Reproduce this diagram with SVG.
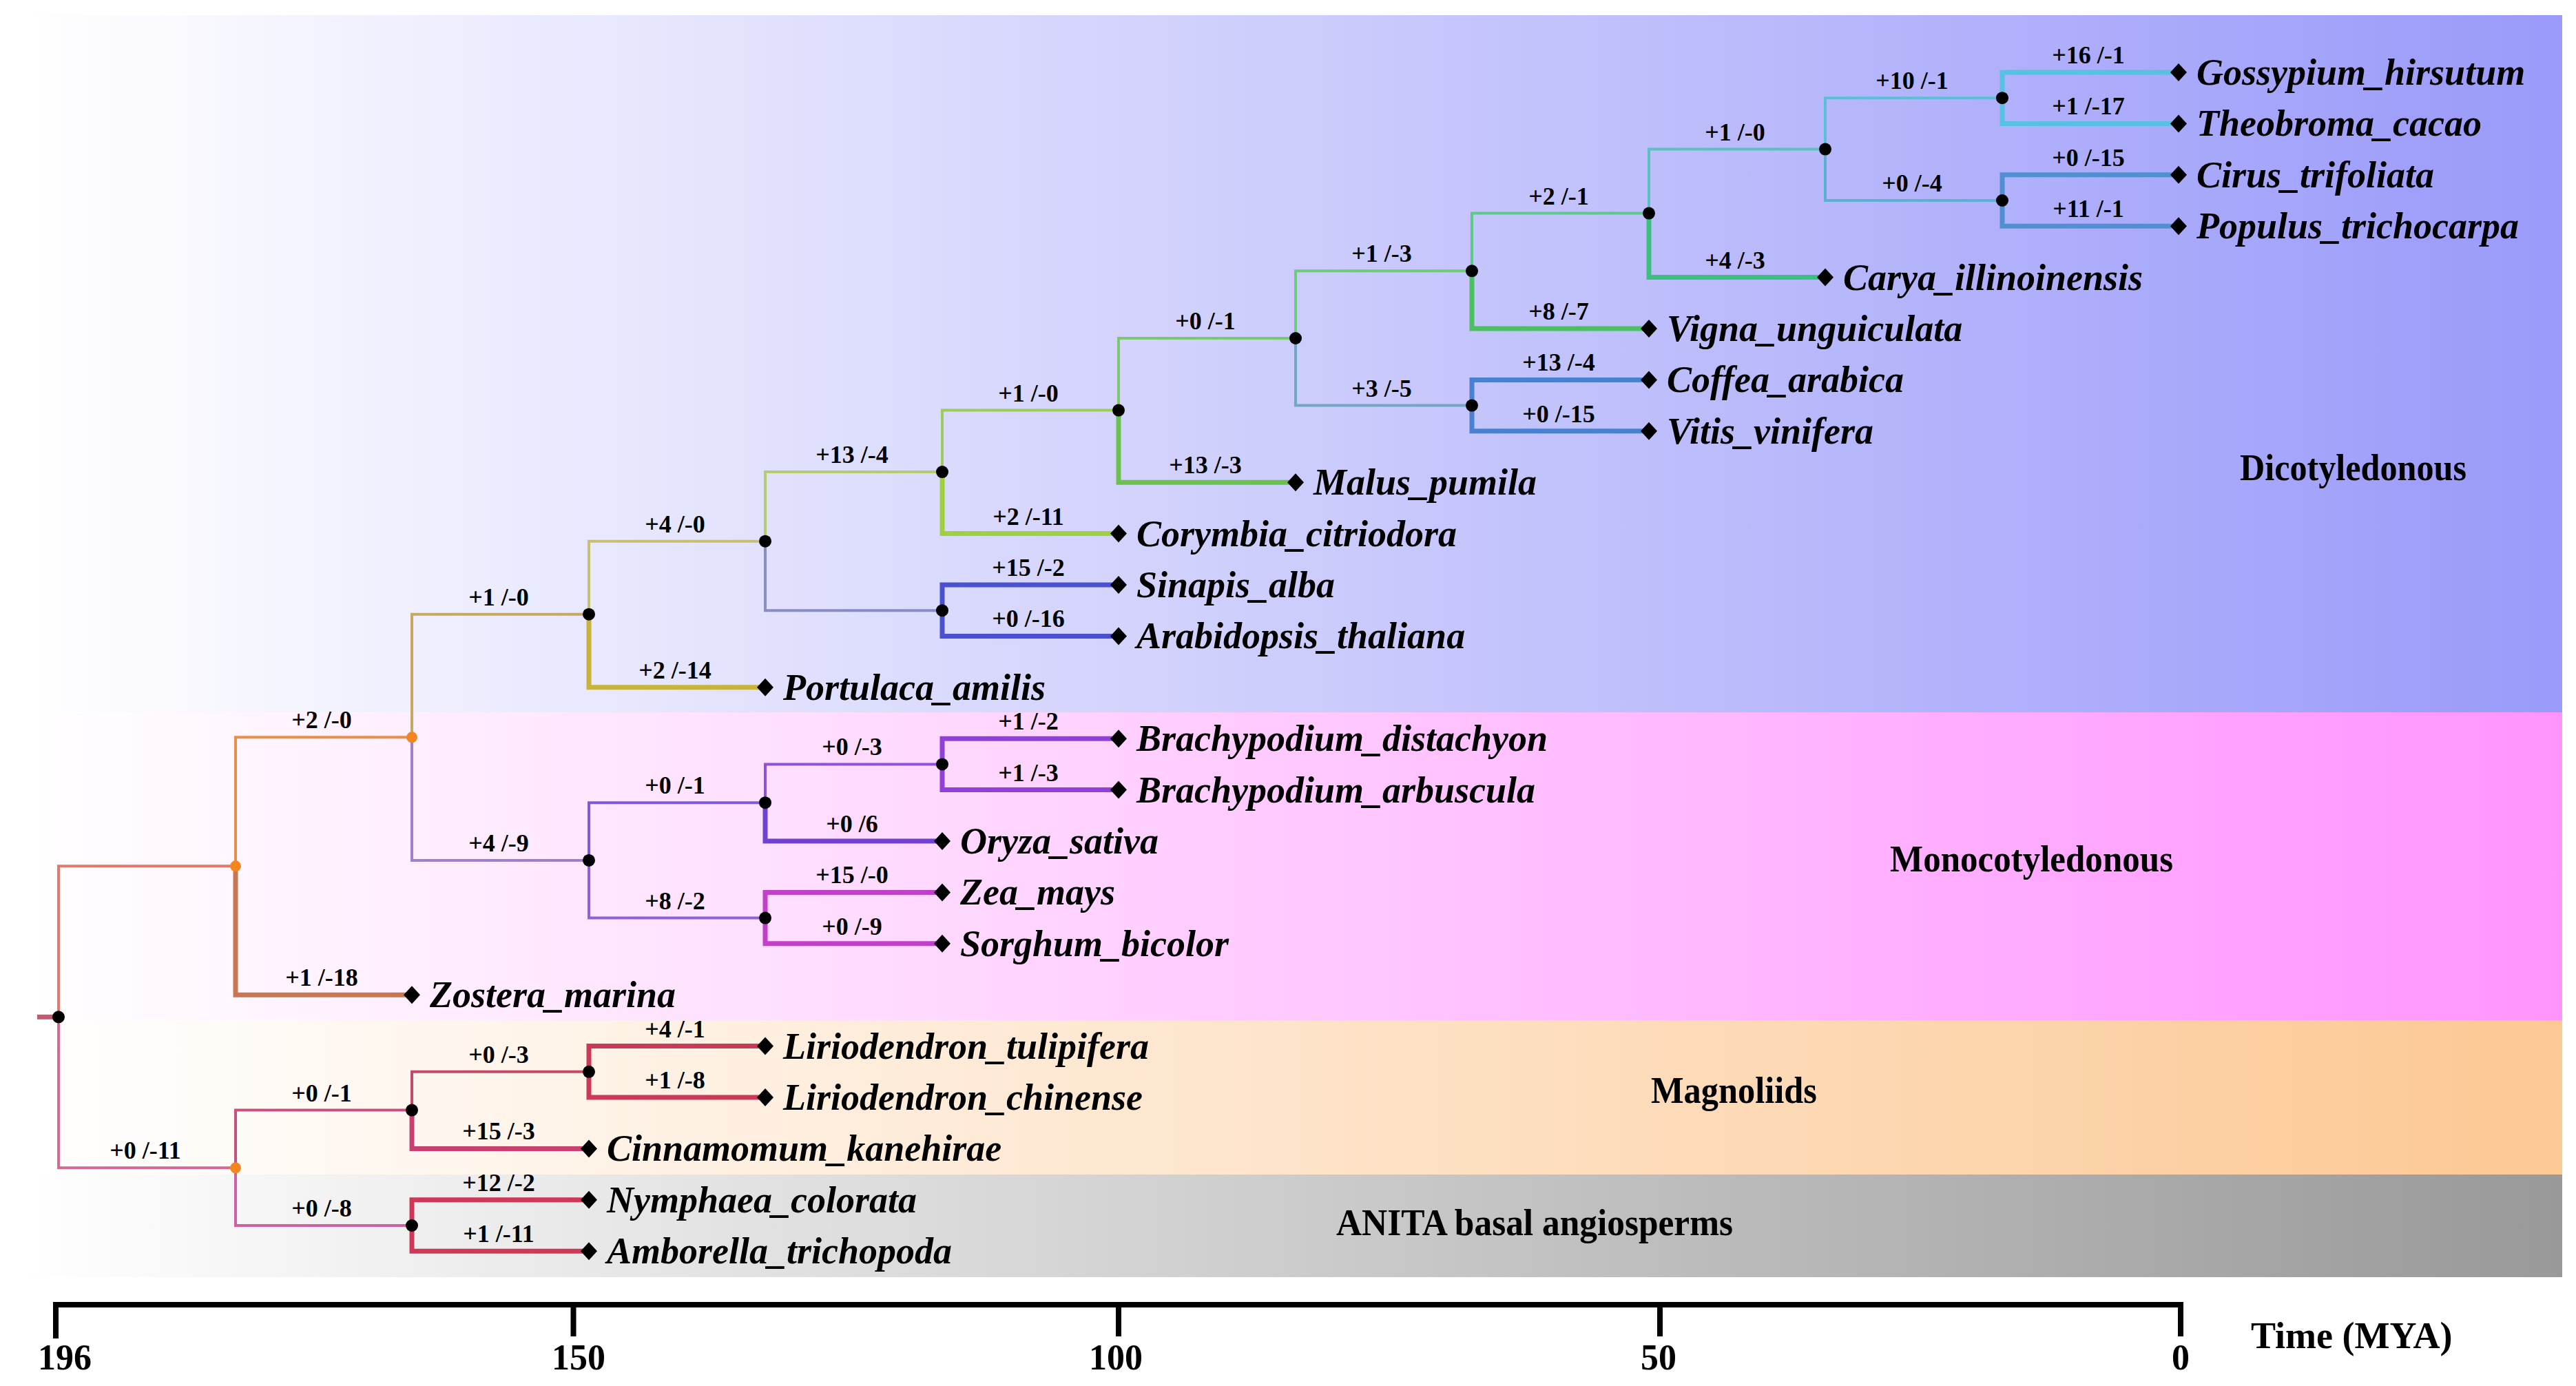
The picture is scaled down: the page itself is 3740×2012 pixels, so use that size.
<svg xmlns="http://www.w3.org/2000/svg" xmlns:xlink="http://www.w3.org/1999/xlink" width="3740" height="2012" viewBox="0 0 3740 2012">
<defs>
<linearGradient id="gDicot" x1="0" y1="0" x2="1" y2="0"><stop offset="0" stop-color="#ffffff"/><stop offset="1" stop-color="#9a9afa"/></linearGradient>
<linearGradient id="gMono" x1="0" y1="0" x2="1" y2="0"><stop offset="0" stop-color="#ffffff"/><stop offset="1" stop-color="#ff94ff"/></linearGradient>
<linearGradient id="gMag" x1="0" y1="0" x2="1" y2="0"><stop offset="0" stop-color="#ffffff"/><stop offset="1" stop-color="#fcc894"/></linearGradient>
<linearGradient id="gAnita" x1="0" y1="0" x2="1" y2="0"><stop offset="0" stop-color="#ffffff"/><stop offset="1" stop-color="#999999"/></linearGradient>
<path id="dia" d="M0,-13 L12,0 L0,13 L-12,0 Z" fill="#000"/>
</defs>
<style>
.br{fill:none;stroke-width:4;stroke-linejoin:miter;stroke-linecap:square}
.lf{fill:none;stroke-width:7;stroke-linejoin:miter;stroke-linecap:butt}
.el{font-family:"Liberation Serif","Times New Roman",serif;font-weight:bold;font-size:36px;fill:#000;text-anchor:middle}
.sp{font-family:"Liberation Serif","Times New Roman",serif;font-weight:bold;font-style:italic;font-size:54px;fill:#000}
.grp{font-family:"Liberation Serif","Times New Roman",serif;font-weight:bold;font-size:54px;fill:#000}
.ax{font-family:"Liberation Serif","Times New Roman",serif;font-weight:bold;font-size:52px;fill:#000;text-anchor:middle}
.dot{fill:#000}
.odot{fill:#f7851f}
</style>
<rect width="3740" height="2012" fill="#ffffff"/>
<g id="bands">
<rect x="30" y="22" width="3690" height="1012" fill="url(#gDicot)"/>
<rect x="30" y="1034" width="3690" height="447" fill="url(#gMono)"/>
<rect x="30" y="1481" width="3690" height="224" fill="url(#gMag)"/>
<rect x="30" y="1705" width="3690" height="149" fill="url(#gAnita)"/>
<text class="grp" x="3252" y="697" textLength="329" lengthAdjust="spacingAndGlyphs">Dicotyledonous</text>
<text class="grp" x="2744" y="1265" textLength="411" lengthAdjust="spacingAndGlyphs">Monocotyledonous</text>
<text class="grp" x="2397" y="1601" textLength="241" lengthAdjust="spacingAndGlyphs">Magnoliids</text>
<text class="grp" x="1940" y="1793" textLength="576" lengthAdjust="spacingAndGlyphs">ANITA basal angiosperms</text>
</g>
<g id="connectors">
<path class="lf" stroke="#c45a70" d="M54,1476.3 H85"/>
<path class="br" stroke="#e07a6a" d="M85,1476.3 V1257.3 H342"/>
<path class="br" stroke="#d46a94" d="M85,1476.3 V1695.3 H342"/>
<path class="br" stroke="#e8904a" d="M342,1257.3 V1070.3 H598"/>
<path class="lf" stroke="#c87850" d="M342,1257.3 V1444.2 H598"/>
<path class="br" stroke="#c8a860" d="M598,1070.3 V891.7 H855"/>
<path class="br" stroke="#a080c8" d="M598,1070.3 V1248.9 H855"/>
<path class="br" stroke="#c8c070" d="M855,891.7 V785.7 H1111"/>
<path class="lf" stroke="#c8b43c" d="M855,891.7 V997.8 H1111"/>
<path class="br" stroke="#b4cc6c" d="M1111,785.7 V685.1 H1368"/>
<path class="br" stroke="#8c8cc4" d="M1111,785.7 V886.2 H1368"/>
<path class="br" stroke="#9ccc5c" d="M1368,685.1 V595.6 H1624"/>
<path class="lf" stroke="#a0d040" d="M1368,685.1 V774.6 H1624"/>
<path class="lf" stroke="#4a50d0" d="M1368,886.2 V849 H1624"/>
<path class="lf" stroke="#4a50d0" d="M1368,886.2 V923.4 H1624"/>
<path class="br" stroke="#7cc870" d="M1624,595.6 V491 H1881"/>
<path class="lf" stroke="#6cc050" d="M1624,595.6 V700.2 H1881"/>
<path class="br" stroke="#6ccc7c" d="M1881,491 V393.3 H2137"/>
<path class="br" stroke="#70a8c4" d="M1881,491 V588.6 H2137"/>
<path class="br" stroke="#5cc88c" d="M2137,393.3 V309.6 H2394"/>
<path class="lf" stroke="#4cc060" d="M2137,393.3 V477 H2394"/>
<path class="lf" stroke="#4a80d0" d="M2137,588.6 V551.4 H2394"/>
<path class="lf" stroke="#4a80d0" d="M2137,588.6 V625.8 H2394"/>
<path class="br" stroke="#5cc0c0" d="M2394,309.6 V216.6 H2650"/>
<path class="lf" stroke="#3cc080" d="M2394,309.6 V402.6 H2650"/>
<path class="br" stroke="#5cc0d4" d="M2650,216.6 V142.2 H2907"/>
<path class="br" stroke="#5cb0d0" d="M2650,216.6 V291 H2907"/>
<path class="lf" stroke="#58c0e0" d="M2907,142.2 V105 H3163"/>
<path class="lf" stroke="#58c0e0" d="M2907,142.2 V179.4 H3163"/>
<path class="lf" stroke="#5090d0" d="M2907,291 V253.8 H3163"/>
<path class="lf" stroke="#5090d0" d="M2907,291 V328.2 H3163"/>
<path class="br" stroke="#8058e0" d="M855,1248.9 V1165.2 H1111"/>
<path class="br" stroke="#9060d8" d="M855,1248.9 V1332.6 H1111"/>
<path class="br" stroke="#9050d8" d="M1111,1165.2 V1109.4 H1368"/>
<path class="lf" stroke="#7040d0" d="M1111,1165.2 V1221 H1368"/>
<path class="lf" stroke="#9040d8" d="M1368,1109.4 V1072.2 H1624"/>
<path class="lf" stroke="#9040d8" d="M1368,1109.4 V1146.6 H1624"/>
<path class="lf" stroke="#c040c8" d="M1111,1332.6 V1295.4 H1368"/>
<path class="lf" stroke="#c040c8" d="M1111,1332.6 V1369.8 H1368"/>
<path class="br" stroke="#c85080" d="M342,1695.3 V1611.6 H598"/>
<path class="br" stroke="#d060a0" d="M342,1695.3 V1779 H598"/>
<path class="br" stroke="#c84868" d="M598,1611.6 V1555.8 H855"/>
<path class="lf" stroke="#c84070" d="M598,1611.6 V1667.4 H855"/>
<path class="lf" stroke="#c83a58" d="M855,1555.8 V1518.6 H1111"/>
<path class="lf" stroke="#c83a58" d="M855,1555.8 V1593 H1111"/>
<path class="lf" stroke="#d03858" d="M598,1779 V1741.8 H855"/>
<path class="lf" stroke="#d03858" d="M598,1779 V1816.2 H855"/>
<g id="edge-labels">
<text class="el" x="467" y="1057">+2 /-0</text>
<text class="el" x="467" y="1431">+1 /-18</text>
<text class="el" x="724" y="879">+1 /-0</text>
<text class="el" x="724" y="1236">+4 /-9</text>
<text class="el" x="980" y="773">+4 /-0</text>
<text class="el" x="980" y="985">+2 /-14</text>
<text class="el" x="1237" y="672">+13 /-4</text>
<text class="el" x="1493" y="583">+1 /-0</text>
<text class="el" x="1493" y="762">+2 /-11</text>
<text class="el" x="1493" y="836">+15 /-2</text>
<text class="el" x="1493" y="910">+0 /-16</text>
<text class="el" x="1750" y="478">+0 /-1</text>
<text class="el" x="1750" y="687">+13 /-3</text>
<text class="el" x="2006" y="380">+1 /-3</text>
<text class="el" x="2006" y="576">+3 /-5</text>
<text class="el" x="2263" y="297">+2 /-1</text>
<text class="el" x="2263" y="464">+8 /-7</text>
<text class="el" x="2263" y="538">+13 /-4</text>
<text class="el" x="2263" y="613">+0 /-15</text>
<text class="el" x="2519" y="204">+1 /-0</text>
<text class="el" x="2519" y="390">+4 /-3</text>
<text class="el" x="2776" y="129">+10 /-1</text>
<text class="el" x="2776" y="278">+0 /-4</text>
<text class="el" x="3032" y="92">+16 /-1</text>
<text class="el" x="3032" y="166">+1 /-17</text>
<text class="el" x="3032" y="241">+0 /-15</text>
<text class="el" x="3032" y="315">+11 /-1</text>
<text class="el" x="980" y="1152">+0 /-1</text>
<text class="el" x="980" y="1320">+8 /-2</text>
<text class="el" x="1237" y="1096">+0 /-3</text>
<text class="el" x="1237" y="1208">+0 /6</text>
<text class="el" x="1237" y="1282">+15 /-0</text>
<text class="el" x="1237" y="1357">+0 /-9</text>
<text class="el" x="1493" y="1059">+1 /-2</text>
<text class="el" x="1493" y="1134">+1 /-3</text>
<text class="el" x="211" y="1682">+0 /-11</text>
<text class="el" x="467" y="1599">+0 /-1</text>
<text class="el" x="467" y="1766">+0 /-8</text>
<text class="el" x="724" y="1543">+0 /-3</text>
<text class="el" x="724" y="1654">+15 /-3</text>
<text class="el" x="724" y="1729">+12 /-2</text>
<text class="el" x="724" y="1803">+1 /-11</text>
<text class="el" x="980" y="1506">+4 /-1</text>
<text class="el" x="980" y="1580">+1 /-8</text>
</g>
</g>
<g id="internal-nodes">
<circle id="n-root" class="dot" cx="85" cy="1476.3" r="9"/>
<circle id="n-A" class="odot" cx="342" cy="1257.3" r="8"/>
<circle id="n-B" class="odot" cx="342" cy="1695.3" r="8"/>
<circle id="n-C" class="odot" cx="598" cy="1070.3" r="8"/>
<circle id="n-D" class="dot" cx="855" cy="891.7" r="9"/>
<circle id="n-E" class="dot" cx="855" cy="1248.9" r="9"/>
<circle id="n-F" class="dot" cx="1111" cy="785.7" r="9"/>
<circle id="n-G" class="dot" cx="1368" cy="685.1" r="9"/>
<circle id="n-H" class="dot" cx="1368" cy="886.2" r="9"/>
<circle id="n-I" class="dot" cx="1624" cy="595.6" r="9"/>
<circle id="n-J" class="dot" cx="1881" cy="491" r="9"/>
<circle id="n-K" class="dot" cx="2137" cy="393.3" r="9"/>
<circle id="n-L" class="dot" cx="2137" cy="588.6" r="9"/>
<circle id="n-M" class="dot" cx="2394" cy="309.6" r="9"/>
<circle id="n-N" class="dot" cx="2650" cy="216.6" r="9"/>
<circle id="n-O" class="dot" cx="2907" cy="142.2" r="9"/>
<circle id="n-P" class="dot" cx="2907" cy="291" r="9"/>
<circle id="n-Q" class="dot" cx="1111" cy="1165.2" r="9"/>
<circle id="n-R" class="dot" cx="1111" cy="1332.6" r="9"/>
<circle id="n-S" class="dot" cx="1368" cy="1109.4" r="9"/>
<circle id="n-T" class="dot" cx="598" cy="1611.6" r="9"/>
<circle id="n-U" class="dot" cx="598" cy="1779" r="9"/>
<circle id="n-V" class="dot" cx="855" cy="1555.8" r="9"/>
</g>
<g id="leaf-gossypium"><use xlink:href="#dia" x="3163" y="105"/><text class="sp" x="3189" y="123">Gossypium_hirsutum</text></g>
<g id="leaf-theobroma"><use xlink:href="#dia" x="3163" y="179.4"/><text class="sp" x="3189" y="197">Theobroma_cacao</text></g>
<g id="leaf-cirus"><use xlink:href="#dia" x="3163" y="253.8"/><text class="sp" x="3189" y="272">Cirus_trifoliata</text></g>
<g id="leaf-populus"><use xlink:href="#dia" x="3163" y="328.2"/><text class="sp" x="3189" y="346">Populus_trichocarpa</text></g>
<g id="leaf-carya"><use xlink:href="#dia" x="2650" y="402.6"/><text class="sp" x="2676" y="421">Carya_illinoinensis</text></g>
<g id="leaf-vigna"><use xlink:href="#dia" x="2394" y="477"/><text class="sp" x="2420" y="495">Vigna_unguiculata</text></g>
<g id="leaf-coffea"><use xlink:href="#dia" x="2394" y="551.4"/><text class="sp" x="2420" y="569">Coffea_arabica</text></g>
<g id="leaf-vitis"><use xlink:href="#dia" x="2394" y="625.8"/><text class="sp" x="2420" y="644">Vitis_vinifera</text></g>
<g id="leaf-malus"><use xlink:href="#dia" x="1881" y="700.2"/><text class="sp" x="1907" y="718">Malus_pumila</text></g>
<g id="leaf-corymbia"><use xlink:href="#dia" x="1624" y="774.6"/><text class="sp" x="1650" y="793">Corymbia_citriodora</text></g>
<g id="leaf-sinapis"><use xlink:href="#dia" x="1624" y="849"/><text class="sp" x="1650" y="867">Sinapis_alba</text></g>
<g id="leaf-arabidopsis"><use xlink:href="#dia" x="1624" y="923.4"/><text class="sp" x="1650" y="941">Arabidopsis_thaliana</text></g>
<g id="leaf-portulaca"><use xlink:href="#dia" x="1111" y="997.8"/><text class="sp" x="1137" y="1016">Portulaca_amilis</text></g>
<g id="leaf-brachy-d"><use xlink:href="#dia" x="1624" y="1072.2"/><text class="sp" x="1650" y="1090">Brachypodium_distachyon</text></g>
<g id="leaf-brachy-a"><use xlink:href="#dia" x="1624" y="1146.6"/><text class="sp" x="1650" y="1165">Brachypodium_arbuscula</text></g>
<g id="leaf-oryza"><use xlink:href="#dia" x="1368" y="1221"/><text class="sp" x="1394" y="1239">Oryza_sativa</text></g>
<g id="leaf-zea"><use xlink:href="#dia" x="1368" y="1295.4"/><text class="sp" x="1394" y="1313">Zea_mays</text></g>
<g id="leaf-sorghum"><use xlink:href="#dia" x="1368" y="1369.8"/><text class="sp" x="1394" y="1388">Sorghum_bicolor</text></g>
<g id="leaf-zostera"><use xlink:href="#dia" x="598" y="1444.2"/><text class="sp" x="624" y="1462">Zostera_marina</text></g>
<g id="leaf-lirio-t"><use xlink:href="#dia" x="1111" y="1518.6"/><text class="sp" x="1137" y="1537">Liriodendron_tulipifera</text></g>
<g id="leaf-lirio-c"><use xlink:href="#dia" x="1111" y="1593"/><text class="sp" x="1137" y="1611">Liriodendron_chinense</text></g>
<g id="leaf-cinnamomum"><use xlink:href="#dia" x="855" y="1667.4"/><text class="sp" x="881" y="1685">Cinnamomum_kanehirae</text></g>
<g id="leaf-nymphaea"><use xlink:href="#dia" x="855" y="1741.8"/><text class="sp" x="881" y="1760">Nymphaea_colorata</text></g>
<g id="leaf-amborella"><use xlink:href="#dia" x="855" y="1816.2"/><text class="sp" x="881" y="1834">Amborella_trichopoda</text></g>
<g id="axis">
<path d="M81,1943 V1894 H3166 V1940" fill="none" stroke="#000" stroke-width="8"/>
<path d="M832.5,1894 V1940 M1624,1894 V1940 M2410,1894 V1940" fill="none" stroke="#000" stroke-width="8"/>
<text class="ax" x="94" y="1988">196</text>
<text class="ax" x="840" y="1988">150</text>
<text class="ax" x="1620" y="1988">100</text>
<text class="ax" x="2408" y="1988">50</text>
<text class="ax" x="3166" y="1988">0</text>
<text class="grp" x="3268" y="1957" font-size="52">Time (MYA)</text>
</g>
</svg>
